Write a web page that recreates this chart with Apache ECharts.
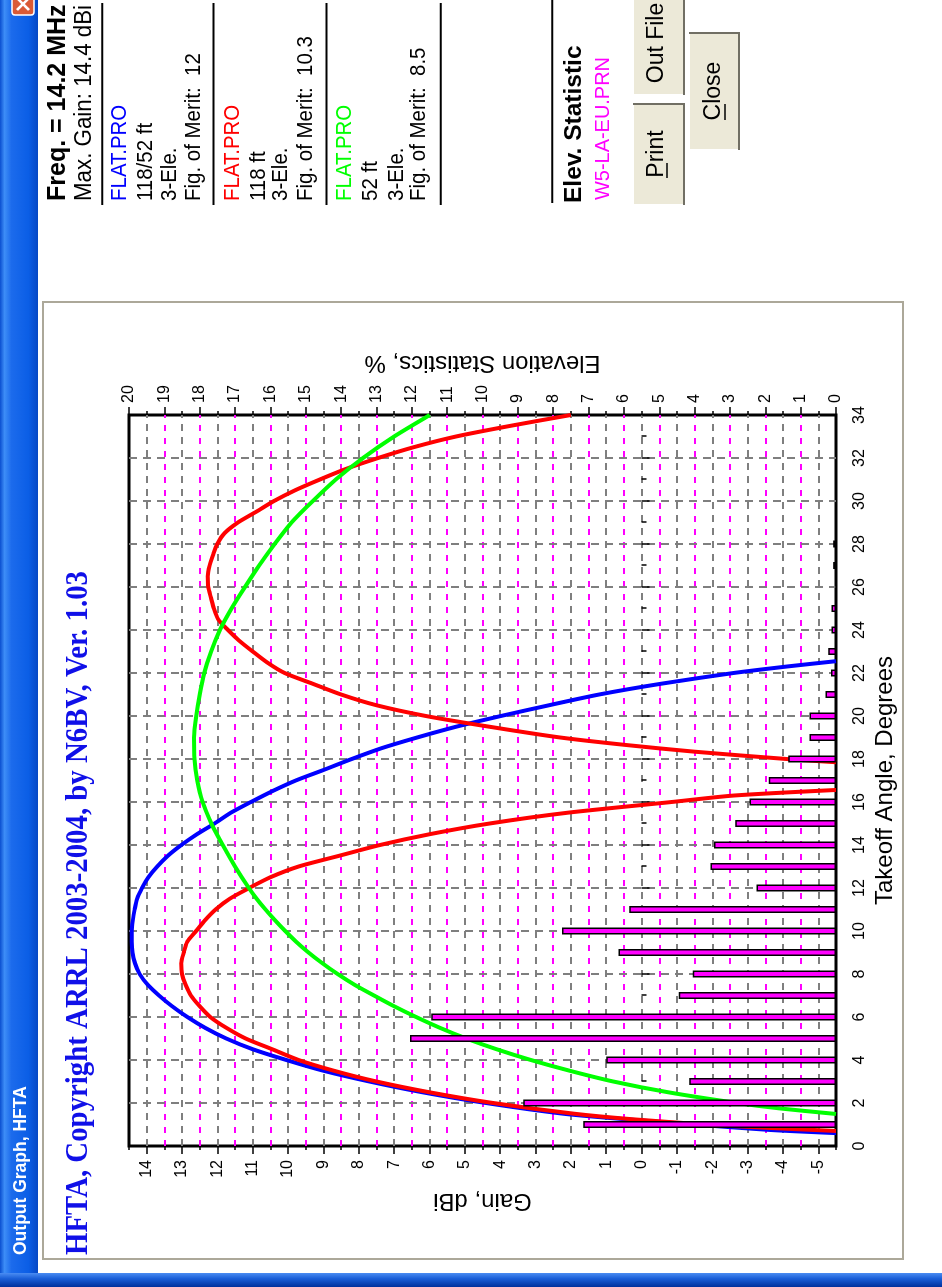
<!DOCTYPE html>
<html>
<head>
<meta charset="utf-8">
<title>Output Graph, HFTA</title>
<script src="https://cdn.jsdelivr.net/npm/echarts@6/dist/echarts.min.js"></script>
<style>
  html, body { margin: 0; padding: 0; background: #fff; overflow: hidden; width: 942px; height: 1287px; }
  /* the dialog is laid out landscape and turned a quarter turn to the left */
  #win { position: absolute; left: 0; top: 0; width: 1287px; height: 942px;
         transform-origin: 0 0; transform: translate(0, 1287px) rotate(-90deg); background: #fff; }
</style>
</head>
<body>
<div id="win"></div>
<script>
// ---- elevation statistics for the W5 -> EU path (percent of openings per degree) ----
const elevAngle = [1, 2, 3, 4, 5, 6, 7, 8, 9, 10, 11, 12, 13, 14, 15, 16, 17, 18, 19, 20, 21, 22, 23, 24, 25, 26, 27, 28];
const elevPct   = [7.15, 8.85, 4.15, 6.5, 12.05, 11.45, 4.45, 4.05, 6.15, 7.75, 5.85, 2.25, 3.55, 3.45,
                   2.85, 2.45, 1.9, 1.35, 0.75, 0.75, 0.3, 0.14, 0.22, 0.13, 0.13, 0, 0.08, 0.08];

// ---- FLAT.PRO 118/52 ft stack, 3-Ele. (blue) ----
const blueAngle = [0.6, 0.75, 1, 1.25, 1.5, 2, 2.5, 3, 3.5, 4, 4.5, 5, 5.5, 6, 6.5, 7, 7.5, 8, 8.5, 9, 9.5, 10,
                   10.5, 11, 11.5, 12, 12.5, 13, 13.5, 14, 14.5, 15, 15.5, 16, 16.5, 17, 17.5, 18, 18.5, 19,
                   19.5, 20, 20.5, 21, 21.5, 22, 22.3, 22.55];
const blueGain  = [-5.5, -3.6, -1.5, 0.5, 2.2, 4.4, 6.2, 7.7, 9.0, 10.05, 11.0, 11.75, 12.35, 12.85, 13.28, 13.65,
                   13.97, 14.2, 14.33, 14.4, 14.42, 14.42, 14.39, 14.34, 14.27, 14.13, 13.95, 13.7, 13.4, 13.02,
                   12.58, 12.08, 11.62, 11.05, 10.45, 9.78, 8.98, 8.2, 7.36, 6.35, 5.25, 3.98, 2.62, 1.2, -0.55,
                   -2.6, -4.1, -5.5];

// ---- FLAT.PRO 118 ft, 3-Ele. (red): low lobe, then high lobe ----
const redLowAngle = [0.7, 0.85, 1, 1.25, 1.5, 2, 2.5, 3, 3.5, 4, 4.5, 5, 5.5, 6, 6.5, 7, 7.5, 8, 8.5, 9, 9.5,
                     10, 10.5, 11, 11.5, 12, 12.5, 13, 13.5, 14, 14.5, 15, 15.5, 16, 16.3, 16.56];
const redLowGain  = [-5.5, -3.5, -1.8, 0.3, 1.9, 4.2, 6.0, 7.5, 8.7, 9.7, 10.45, 11.2, 11.75, 12.2, 12.5, 12.75,
                     12.9, 13.0, 13.02, 12.95, 12.85, 12.6, 12.35, 12.05, 11.65, 11.1, 10.5, 9.7, 8.55, 7.4, 6.0,
                     4.3, 2.1, -0.85, -2.6, -5.5];
const redHighAngle = [17.85, 18, 18.34, 18.65, 19, 19.5, 20, 20.5, 21, 21.5, 22, 22.5, 23, 23.5, 24, 24.5, 25,
                      25.5, 26, 26.5, 27, 27.5, 28, 28.5, 29, 29.5, 30, 30.5, 31, 31.5, 32, 32.5, 33, 33.5, 34];
const redHighGain  = [-5.5, -4.1, -1.5, 0.43, 2.3, 4.3, 6.1, 7.5, 8.5, 9.3, 10.1, 10.6, 11.0, 11.38, 11.7, 11.98,
                      12.1, 12.18, 12.26, 12.27, 12.22, 12.12, 12.0, 11.8, 11.42, 10.9, 10.4, 9.8, 9.1, 8.35,
                      7.45, 6.45, 5.25, 3.7, 2.0];

// ---- FLAT.PRO 52 ft, 3-Ele. (green) ----
const greenAngle = [1.49, 1.75, 2, 2.5, 3, 3.5, 4, 4.5, 5, 5.5, 6, 6.5, 7, 7.5, 8, 8.5, 9, 9.5, 10, 10.5, 11,
                    11.5, 12, 13, 14, 15, 16, 17, 18, 19, 20, 21, 22, 23, 24, 25, 26, 27, 28, 29, 30, 31, 32,
                    33, 34];
const greenGain  = [-5.5, -3.9, -2.7, -0.75, 0.8, 2.03, 3.13, 4.1, 4.96, 5.71, 6.38, 7.0, 7.57, 8.12, 8.6, 9.03,
                    9.42, 9.77, 10.08, 10.37, 10.64, 10.89, 11.11, 11.5, 11.85, 12.17, 12.42, 12.57, 12.65, 12.66,
                    12.6, 12.5, 12.37, 12.18, 11.93, 11.6, 11.22, 10.82, 10.38, 9.9, 9.3, 8.65, 7.88, 7.0, 5.99];

// ---- gain axis tick values (dBi) ----
const gainTicks = [-5, -4, -3, -2, -1, 0, 1, 2, 3, 4, 5, 6, 7, 8, 9, 10, 11, 12, 13, 14];

const SANS = '"Liberation Sans", Arial, sans-serif';
const SERIF = '"Liberation Serif", "Times New Roman", serif';
const zip = (xs, ys) => xs.map((x, i) => [x, ys[i]]);

const redData = zip(redLowAngle, redLowGain).concat([[17.2, '-']], zip(redHighAngle, redHighGain));

const chart = echarts.init(document.getElementById('win'), null, { renderer: 'canvas', width: 1287, height: 942 });

function txt(text, x, y, font, fill, align, sx) {
  return { type: 'text', x: x, y: y, z: 20, silent: true, scaleX: sx || 1,
           style: { text: text, font: font, fill: fill || '#000', align: align || 'left', verticalAlign: 'middle' } };
}
function hline(x1, x2, y, color, w) {
  return { type: 'line', z: 20, silent: true, shape: { x1: x1, y1: y, x2: x2, y2: y },
           style: { stroke: color, lineWidth: w } };
}
function vline(x, y1, y2, color, w) {
  return { type: 'line', z: 20, silent: true, shape: { x1: x, y1: y1, x2: x, y2: y2 },
           style: { stroke: color, lineWidth: w } };
}
function button(x, y, w, h) {
  return [
    { type: 'rect', z: 18, silent: true, shape: { x: x, y: y, width: w, height: h }, style: { fill: '#ECE9D8' } },
    hline(x, x + w, y + 0.5, '#FFFFFF', 1),
    vline(x + 0.5, y, y + h, '#FFFFFF', 1),
    hline(x, x + w, y + h - 1, '#716F64', 2),
    vline(x + w - 1, y, y + h, '#716F64', 2)
  ];
}

const panelX = 1086;
const PANEL = '22px ' + SANS;
const PSX = 0.93;
const graphics = [
  // window title bar and left frame
  { type: 'rect', z: 10, silent: true, shape: { x: 0, y: 0, width: 1287, height: 38 },
    style: { fill: new echarts.graphic.LinearGradient(0, 0, 0, 1, [
      { offset: 0, color: '#0A4FD0' }, { offset: 0.12, color: '#3D8DF7' }, { offset: 0.3, color: '#1C6BEC' },
      { offset: 0.75, color: '#0B5EE6' }, { offset: 1, color: '#0648C4' }]) } },
  { type: 'rect', z: 11, silent: true, shape: { x: 0, y: 0, width: 14, height: 942 },
    style: { fill: new echarts.graphic.LinearGradient(0, 0, 1, 0, [
      { offset: 0, color: '#00309C' }, { offset: 0.6, color: '#1A5FD8' }, { offset: 1, color: '#4A8CF2' }]) } },
  txt('Output Graph, HFTA', 32, 21, 'bold 17.5px ' + SANS, '#FFFFFF'),
  // close box, partly outside the screen edge
  { type: 'rect', z: 12, silent: true, shape: { x: 1272, y: 12, width: 24, height: 22, r: 3 },
    style: { fill: '#DA5A36', stroke: '#FFFFFF', lineWidth: 1.5 } },
  { type: 'line', z: 13, silent: true, shape: { x1: 1277, y1: 17, x2: 1289, y2: 29 }, style: { stroke: '#fff', lineWidth: 2.5 } },
  { type: 'line', z: 13, silent: true, shape: { x1: 1277, y1: 29, x2: 1289, y2: 17 }, style: { stroke: '#fff', lineWidth: 2.5 } },

  // chart group box
  { type: 'rect', z: -1, silent: true, shape: { x: 28, y: 43, width: 957, height: 860 },
    style: { fill: 'none', stroke: '#ACA899', lineWidth: 2 } },

  // heading inside the chart box
  txt('HFTA, Copyright ARRL 2003-2004, by N6BV, Ver. 1.03', 32, 79, 'bold 31px ' + SERIF, '#1010E8', 'left', 0.93),

  // right-hand information panel
  txt('Freq. = 14.2 MHz', panelX, 58.5, 'bold 25px ' + SANS),
  txt('Max. Gain: 14.4 dBi', panelX, 85, '23.5px ' + SANS, '#000', 'left', 0.95),
  hline(1082, 1284, 102.3, '#000', 2),
  txt('FLAT.PRO', panelX, 120, PANEL, '#0000FF', 'left', PSX),
  txt('118/52 ft', panelX, 145.5, PANEL, '#000', 'left', PSX),
  txt('3-Ele.', panelX, 170, PANEL, '#000', 'left', PSX),
  txt('Fig. of Merit:  12', panelX, 194, PANEL, '#000', 'left', PSX),
  hline(1082, 1284, 213.5, '#000', 2),
  txt('FLAT.PRO', panelX, 232.5, PANEL, '#FF0000', 'left', PSX),
  txt('118 ft', panelX, 258.8, PANEL, '#000', 'left', PSX),
  txt('3-Ele.', panelX, 280.5, PANEL, '#000', 'left', PSX),
  txt('Fig. of Merit:  10.3', panelX, 306, PANEL, '#000', 'left', PSX),
  hline(1082, 1284, 326.4, '#000', 2),
  txt('FLAT.PRO', panelX, 345.4, PANEL, '#00FF00', 'left', PSX),
  txt('52 ft', panelX, 371, PANEL, '#000', 'left', PSX),
  txt('3-Ele.', panelX, 397.3, PANEL, '#000', 'left', PSX),
  txt('Fig. of Merit:  8.5', panelX, 419, PANEL, '#000', 'left', PSX),
  hline(1082, 1284, 440.8, '#000', 2),
  hline(1084, 1287, 552.3, '#000', 2),
  txt('Elev. Statistic', 1084, 574.5, 'bold 24.5px ' + SANS),
  txt('W5-LA-EU.PRN', 1087, 603, '21px ' + SANS, '#FF00FF', 'left', 0.95)
].concat(
  button(1082, 633, 102, 52),
  button(1192, 633, 110, 52),
  button(1137, 689, 118, 51),
  [
    txt('Print', 1133, 657, '23px ' + SANS, '#000', 'center'),
    hline(1109, 1124, 667, '#000', 1.5),
    txt('Out File', 1244, 657, '23px ' + SANS, '#000', 'center'),
    txt('Close', 1196, 714, '23px ' + SANS, '#000', 'center'),
    hline(1167, 1183, 725, '#000', 1.5)
  ]
);

const axisLabelStyle = { fontFamily: SANS, fontSize: 16, color: '#000' };
const axisNameStyle = { fontFamily: SANS, fontSize: 24, color: '#000' };
const tickStyle = { color: '#000', width: 1.5 };

chart.setOption({
  animation: false,
  backgroundColor: 'transparent',
  grid: { left: 141, top: 129, width: 731, height: 707, show: true, backgroundColor: '#FFFFFF',
          borderColor: '#000', borderWidth: 3, containLabel: false },
  xAxis: {
    type: 'value', min: 0, max: 34, interval: 2,
    name: 'Takeoff Angle, Degrees', nameLocation: 'middle', nameGap: 36, nameTextStyle: axisNameStyle,
    axisLine: { show: false },
    axisTick: { show: true, length: 8, lineStyle: tickStyle },
    minorTick: { show: true, splitNumber: 2, length: 5, lineStyle: tickStyle },
    axisLabel: Object.assign({ margin: 16 }, axisLabelStyle),
    splitLine: { show: true, showMinLine: false, showMaxLine: false,
                 lineStyle: { color: '#7F7F7F', type: [8, 6], width: 2 } }
  },
  yAxis: [
    {
      type: 'value', position: 'left', min: -5.5, max: 14.5,
      name: 'Gain, dBi', nameLocation: 'middle', nameRotate: 90, nameGap: 41, nameTextStyle: axisNameStyle,
      axisLine: { show: false },
      axisTick: { show: true, customValues: gainTicks, length: 8, lineStyle: tickStyle },
      axisLabel: Object.assign({ customValues: gainTicks, margin: 14 }, axisLabelStyle),
      splitLine: { show: false }
    },
    {
      type: 'value', position: 'right', min: 0, max: 20, interval: 1,
      name: 'Elevation Statistics, %', nameLocation: 'middle', nameRotate: 90, nameGap: 38, nameTextStyle: axisNameStyle,
      axisLine: { show: false },
      axisTick: { show: true, length: 8, lineStyle: tickStyle },
      minorTick: { show: true, splitNumber: 2, length: 4, lineStyle: tickStyle },
      axisLabel: Object.assign({ margin: 12 }, axisLabelStyle),
      // whole-percent lines in magenta; the half-percent lines fall on whole dBi and carry the gain grid
      splitLine: { show: true, showMinLine: false, showMaxLine: false,
                   lineStyle: { color: '#FF00FF', type: [6, 7], width: 2 } },
      minorSplitLine: { show: true, lineStyle: { color: '#7F7F7F', type: [7, 6], width: 2 } }
    },
    {
      // half-dB minor ticks along the gain side
      type: 'value', position: 'left', min: -5.5, max: 14.5, interval: 0.5,
      axisLine: { show: false }, axisLabel: { show: false }, splitLine: { show: false },
      axisTick: { show: true, length: 4, lineStyle: tickStyle }
    }
  ],
  series: [
    { name: 'FLAT.PRO 118/52 ft', type: 'line', xAxisIndex: 0, yAxisIndex: 0, z: 2, symbol: 'none', clip: true,
      smooth: 0.25, data: zip(blueAngle, blueGain), lineStyle: { color: '#0000FF', width: 4 } },
    { name: 'FLAT.PRO 118 ft', type: 'line', xAxisIndex: 0, yAxisIndex: 0, z: 2, symbol: 'none', clip: true,
      smooth: 0.25, connectNulls: false, data: redData, lineStyle: { color: '#FF0000', width: 4 } },
    { name: 'FLAT.PRO 52 ft', type: 'line', xAxisIndex: 0, yAxisIndex: 0, z: 2, symbol: 'none', clip: true,
      smooth: 0.25, data: zip(greenAngle, greenGain), lineStyle: { color: '#00FF00', width: 4 } },
    { name: 'W5-LA-EU.PRN', type: 'bar', xAxisIndex: 0, yAxisIndex: 1, z: 3, barWidth: 7,
      data: zip(elevAngle, elevPct),
      itemStyle: { color: '#FF00FF', borderColor: '#000', borderWidth: 1.5 } }
  ],
  graphic: graphics
});
</script>
</body>
</html>
